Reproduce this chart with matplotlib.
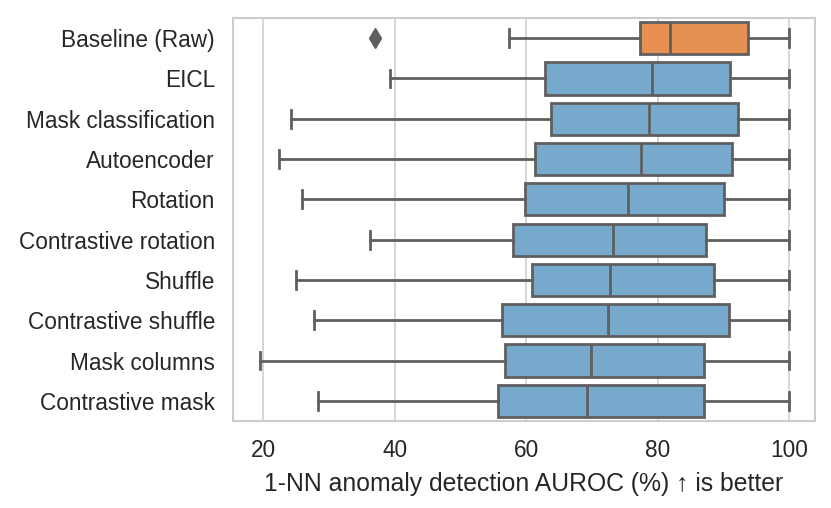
import matplotlib
matplotlib.use("Agg")
import matplotlib.pyplot as plt

# Methods, top to bottom
methods = ['Baseline (Raw)', 'EICL', 'Mask classification', 'Autoencoder', 'Rotation',
           'Contrastive rotation', 'Shuffle', 'Contrastive shuffle', 'Mask columns',
           'Contrastive mask']

# box stats
whislo = [57.4, 39.2, 24.2, 22.4, 25.9, 36.2, 24.9, 27.7, 19.5, 28.3]
q1 = [77.3, 62.9, 63.8, 61.3, 59.8, 58.0, 60.8, 56.3, 56.7, 55.7]
med = [81.9, 79.1, 78.7, 77.5, 75.5, 73.2, 72.7, 72.4, 69.9, 69.2]
q3 = [93.7, 91.0, 92.2, 91.3, 90.1, 87.3, 88.5, 90.8, 87.0, 87.0]
whishi = [100, 100, 100, 100, 100, 100, 100, 100, 100, 100]
fliers = [[37.0], [], [], [], [], [], [], [], [], []]

orange = '#E69151'
blue = '#76A9CB'
gray = '#5f5f5f'

plt.rcParams['font.family'] = ['Liberation Sans', 'DejaVu Sans']

fig = plt.figure(figsize=(8.31, 5.08), dpi=100)
ax = fig.add_axes([233 / 831, 1 - 421 / 508, (815 - 233) / 831, (421 - 18) / 508])

stats = []
for i in range(len(methods)):
    stats.append(dict(label=methods[i], whislo=whislo[i], q1=q1[i], med=med[i],
                      q3=q3[i], whishi=whishi[i], fliers=fliers[i]))

pos = list(range(len(methods)))
bp = ax.bxp(stats, positions=pos, vert=False, widths=0.8, patch_artist=True,
            boxprops=dict(linewidth=2, edgecolor=gray),
            medianprops=dict(color=gray, linewidth=2),
            whiskerprops=dict(color=gray, linewidth=2),
            capprops=dict(color=gray, linewidth=2),
            flierprops=dict(marker='d', markerfacecolor=gray, markeredgecolor=gray,
                            markersize=10),
            capwidths=0.44, zorder=3)
for i, b in enumerate(bp['boxes']):
    b.set_facecolor(orange if i == 0 else blue)

ax.set_ylim(len(methods) - 0.5, -0.5)
ax.set_xlim(15.37, 103.9)
ax.set_xticks([20, 40, 60, 80, 100])
ax.set_yticks(pos)
ax.set_yticklabels(methods)
ax.grid(axis='x', color='#d0d0d0', linewidth=1.2, zorder=0)
ax.set_axisbelow(True)
for s in ax.spines.values():
    s.set_color('#cccccc')
    s.set_linewidth(1.5)
ax.tick_params(axis='both', length=0, labelsize=16.3, colors='#262626', pad=13)
ax.set_xlabel('1-NN anomaly detection AUROC (%) ↑ is better', fontsize=17.8,
              color='#262626', labelpad=7)

fig.savefig('out.png', dpi=100)
